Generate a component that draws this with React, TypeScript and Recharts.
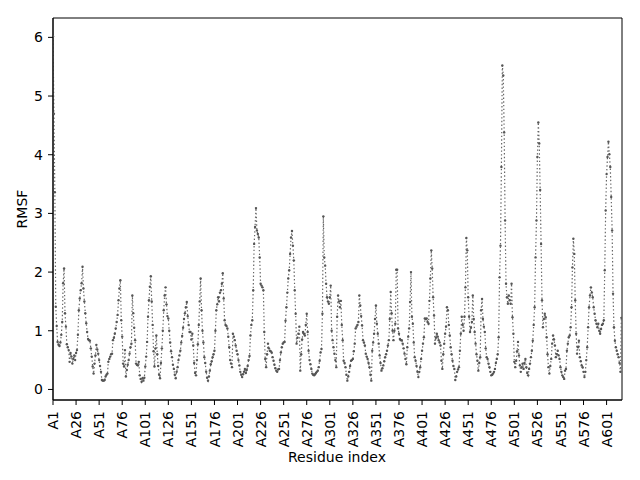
import React from "react";
import {
  LineChart,
  Line,
  XAxis,
  YAxis,
  ReferenceArea,
} from "recharts";

// RMSF per residue (chain A, 617 residues)
const rmsf001 = [
  6.02, 4.7, 3.36, 1.41, 1.08, 0.81, 0.76, 0.74, 0.8, 0.93,
  1.15, 1.81, 2.06, 1.3, 1.07, 0.77, 0.72, 0.67, 0.47, 0.62,
  0.56, 0.44, 0.52, 0.58, 0.5, 0.62, 0.67, 0.93, 1.35, 1.55,
  1.69, 1.81, 2.09, 1.72, 1.5, 1.3, 1.13, 0.98, 0.86, 0.84,
  0.83, 0.7, 0.56, 0.39, 0.27, 0.44, 0.58, 0.76, 0.68, 0.61,
];
const rmsf051 = [
  0.5, 0.4, 0.3, 0.16, 0.15, 0.15, 0.16, 0.22, 0.25, 0.27,
  0.47, 0.52, 0.56, 0.6, 0.61, 0.84, 0.88, 0.95, 1.04, 1.15,
  1.27, 1.52, 1.72, 1.86, 1.18, 0.9, 0.44, 0.39, 0.67, 0.22,
  0.33, 0.42, 0.5, 0.61, 0.72, 0.78, 1.6, 1.3, 1.05, 0.84,
  0.44, 0.42, 0.41, 0.47, 0.24, 0.18, 0.13, 0.19, 0.15, 0.2,
];
const rmsf101 = [
  0.39, 0.56, 0.81, 1.24, 1.52, 1.75, 1.93, 1.5, 1.1, 0.65,
  0.39, 0.7, 0.92, 0.6, 0.4, 0.25, 0.19, 0.45, 0.7, 1.0,
  1.35, 1.6, 1.74, 1.45, 1.25, 1.21, 1.0, 0.8, 0.65, 0.55,
  0.42, 0.35, 0.25, 0.19, 0.3, 0.38, 0.5, 0.58, 0.66, 0.8,
  0.91, 1.05, 1.2, 1.3, 1.4, 1.49, 1.25, 1.1, 0.98, 0.98,
];
const rmsf151 = [
  0.85, 0.95, 0.75, 0.45, 0.28, 0.24, 0.5, 0.77, 1.1, 1.5,
  1.89, 1.35, 1.0, 0.8, 0.55, 0.45, 0.3, 0.2, 0.15, 0.22,
  0.32, 0.43, 0.48, 0.55, 0.6, 0.66, 1.0, 1.35, 1.45, 1.57,
  1.5, 1.65, 1.69, 1.8, 1.98, 1.55, 1.18, 1.1, 1.08, 1.04,
  0.9, 0.72, 0.5, 0.44, 0.38, 0.95, 0.9, 0.84, 0.75, 0.66,
];
const rmsf201 = [
  0.6, 0.5, 0.41, 0.3, 0.25, 0.21, 0.26, 0.3, 0.35, 0.28,
  0.33, 0.4, 0.5, 0.57, 0.92, 1.1, 1.18, 1.69, 2.48, 2.77,
  3.09, 2.71, 2.65, 2.59, 2.25, 1.8, 1.77, 1.74, 1.69, 0.98,
  0.52, 0.38, 0.6, 0.78, 0.7, 0.66, 0.65, 0.63, 0.55, 0.49,
  0.42, 0.36, 0.32, 0.3, 0.34, 0.35, 0.5, 0.63, 0.72, 0.78,
];
const rmsf251 = [
  0.8, 0.81, 1.17, 1.4, 1.65, 1.89, 2.03, 2.31, 2.59, 2.7,
  2.45, 2.2, 1.69, 1.29, 0.78, 0.88, 0.95, 1.07, 0.32, 0.6,
  0.85, 0.98, 0.95, 0.92, 1.1, 1.29, 0.98, 0.66, 0.5, 0.43,
  0.35, 0.27, 0.25, 0.24, 0.26, 0.28, 0.3, 0.32, 0.38, 0.49,
  0.63, 0.69, 1.29, 2.95, 2.25, 2.11, 1.8, 1.57, 1.5, 1.46,
];
const rmsf301 = [
  1.57, 1.77, 1.0, 0.84, 0.72, 0.61, 0.5, 0.38, 1.24, 1.6,
  1.5, 1.4, 1.51, 1.1, 0.84, 0.49, 0.45, 0.38, 0.25, 0.15,
  0.22, 0.3, 0.4, 0.49, 0.5, 0.52, 0.65, 0.78, 1.04, 1.07,
  1.1, 1.15, 1.6, 1.43, 1.25, 1.09, 0.84, 0.8, 0.75, 0.61,
  0.56, 0.52, 0.45, 0.38, 0.25, 0.15, 0.66, 0.8, 0.95, 1.2,
];
const rmsf351 = [
  1.43, 1.12, 0.95, 0.78, 0.58, 0.45, 0.32, 0.36, 0.41, 0.48,
  0.55, 0.6, 0.66, 0.75, 0.84, 1.2, 1.66, 1.3, 1.0, 0.84,
  1.0, 1.12, 2.04, 2.04, 1.04, 0.95, 0.86, 0.84, 0.84, 0.78,
  0.7, 0.61, 0.52, 0.43, 0.72, 0.9, 1.04, 1.49, 2.0, 1.24,
  1.12, 0.8, 0.55, 0.49, 0.4, 0.3, 0.21, 0.3, 0.38, 0.52,
];
const rmsf401 = [
  0.66, 0.78, 0.89, 1.21, 1.2, 1.21, 1.15, 1.12, 1.51, 1.89,
  2.37, 2.06, 1.57, 1.26, 0.78, 0.88, 0.95, 0.9, 0.84, 0.8,
  0.75, 0.49, 0.35, 0.6, 0.78, 0.95, 1.07, 1.4, 1.35, 1.1,
  0.92, 0.72, 0.6, 0.49, 0.4, 0.35, 0.16, 0.22, 0.3, 0.34,
  0.38, 0.66, 0.95, 1.24, 1.1, 1.0, 1.24, 1.74, 2.58, 2.37,
];
const rmsf451 = [
  1.57, 1.24, 0.98, 1.05, 1.15, 1.6, 1.2, 0.98, 0.78, 0.6,
  0.49, 0.32, 0.45, 0.55, 1.35, 1.54, 1.2, 1.07, 0.98, 0.7,
  0.55, 0.52, 0.44, 0.38, 0.3, 0.24, 0.25, 0.27, 0.3, 0.35,
  0.45, 0.52, 0.6, 0.89, 1.91, 2.45, 3.79, 5.52, 5.35, 4.38,
  2.88, 1.8, 1.57, 1.46, 1.6, 1.52, 1.46, 1.8, 1.23, 0.95,
];
const rmsf501 = [
  0.47, 0.38, 0.49, 0.65, 0.81, 0.58, 0.41, 0.3, 0.38, 0.44,
  0.35, 0.45, 0.52, 0.38, 0.28, 0.24, 0.35, 0.44, 0.55, 0.66,
  0.83, 1.1, 1.4, 2.25, 2.88, 3.96, 4.55, 4.19, 3.4, 2.48,
  1.52, 1.06, 1.2, 1.29, 1.23, 0.89, 0.6, 0.38, 0.27, 0.4,
  0.52, 0.78, 0.92, 0.85, 0.75, 0.55, 0.6, 0.66, 0.58, 0.52,
];
const rmsf551 = [
  0.38, 0.3, 0.24, 0.21, 0.18, 0.32, 0.35, 0.66, 0.78, 0.89,
  0.92, 1.06, 1.4, 2.08, 2.57, 2.31, 1.52, 0.95, 0.61, 0.72,
  0.83, 0.55, 0.48, 0.41, 0.38, 0.3, 0.21, 0.3, 0.5, 0.72,
  1.06, 1.4, 1.6, 1.74, 1.65, 1.57, 1.4, 1.29, 1.18, 1.12,
  1.06, 1.12, 1.0, 0.95, 1.03, 1.1, 1.12, 1.18, 2.03, 3.05,
];
const rmsf601 = [
  3.67, 3.96, 4.22, 4.01, 3.79, 3.28, 2.71, 1.63, 1.06, 0.83,
  0.72, 0.66, 0.6, 0.55, 0.45, 0.3, 1.22,
];

const rmsf = [
  ...rmsf001, ...rmsf051, ...rmsf101, ...rmsf151, ...rmsf201,
  ...rmsf251, ...rmsf301, ...rmsf351, ...rmsf401, ...rmsf451,
  ...rmsf501, ...rmsf551, ...rmsf601,
];

const residues = rmsf.map((_, i) => "A" + (i + 1));

const xTicks = [0, 25, 50, 75, 100, 125, 150, 175, 200, 225, 250, 275, 300, 325, 350, 375, 400, 425, 450, 475, 500, 525, 550, 575, 600];
const yTicks = [0, 1, 2, 3, 4, 5, 6];

const data = rmsf.map((v, i) => ({ idx: i, residue: residues[i], rmsf: v }));

const FONT = "DejaVu Sans";
const X_MAX = 616.7;
const Y_MIN = -0.18;
const Y_MAX = 6.33;

const XTick = (props: any) => {
  const { x, y, payload } = props;
  return (
    <g transform={`translate(${x},${y})`}>
      <text
        x={-4}
        y={0}
        dy="0.36em"
        transform="rotate(-90)"
        textAnchor="end"
        fill="#000"
        fontSize={14}
        fontFamily={FONT}
      >
        {residues[payload.value]}
      </text>
    </g>
  );
};

export default function App() {
  return (
    <div style={{ position: "absolute", left: 0, top: 0, width: 640, height: 480, background: "#fff" }}>
      <LineChart
        width={640}
        height={480}
        data={data}
        margin={{ top: 18, right: 18, bottom: 0, left: 0 }}
      >
        <XAxis
          dataKey="idx"
          type="number"
          domain={[0, X_MAX]}
          allowDataOverflow
          ticks={xTicks}
          interval={0}
          height={80}
          tick={<XTick />}
          tickSize={5}
          tickMargin={2}
          axisLine={{ stroke: "#000" }}
          tickLine={{ stroke: "#000" }}
        />
        <YAxis
          type="number"
          domain={[Y_MIN, Y_MAX]}
          allowDataOverflow
          ticks={yTicks}
          width={53}
          tickSize={5}
          tickMargin={5}
          axisLine={{ stroke: "#000" }}
          tickLine={{ stroke: "#000" }}
          tick={{ fill: "#000", fontSize: 14, fontFamily: FONT }}
        />
        <ReferenceArea
          x1={0}
          x2={X_MAX}
          y1={Y_MIN}
          y2={Y_MAX}
          fill="none"
          fillOpacity={0}
          stroke="#000"
          strokeWidth={1}
          ifOverflow="visible"
        />
        <Line
          type="linear"
          dataKey="rmsf"
          stroke="#666"
          strokeWidth={1.2}
          strokeDasharray="1.4 2.3"
          dot={{ r: 1.2, fill: "#555", stroke: "none" }}
          activeDot={false}
          isAnimationActive={false}
        />
      </LineChart>
      <div
        style={{
          position: "absolute",
          left: 337,
          top: 457,
          transform: "translate(-50%, -50%)",
          fontFamily: FONT,
          fontSize: 14,
          whiteSpace: "nowrap",
        }}
      >
        Residue index
      </div>
      <div
        style={{
          position: "absolute",
          left: 22,
          top: 209,
          transform: "translate(-50%, -50%) rotate(-90deg)",
          fontFamily: FONT,
          fontSize: 14,
          whiteSpace: "nowrap",
        }}
      >
        RMSF
      </div>
    </div>
  );
}
